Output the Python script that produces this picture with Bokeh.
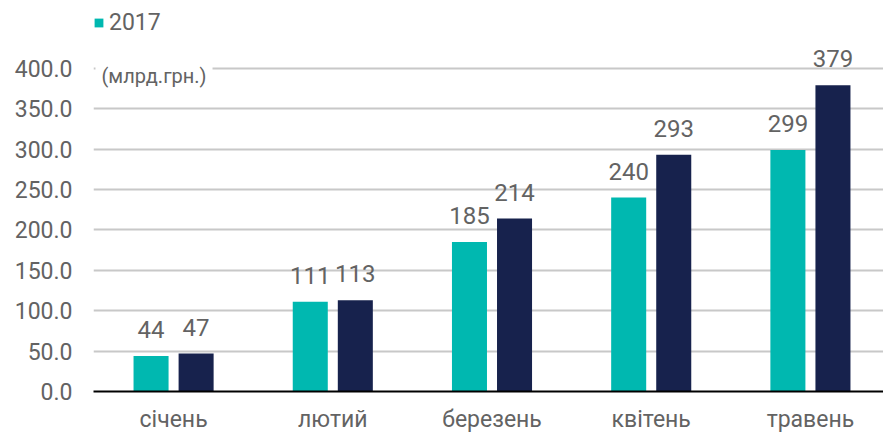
from bokeh.plotting import figure
from bokeh.models import (ColumnDataSource, Range1d, FixedTicker, NumeralTickFormatter,
                          Legend, LegendItem, Label)
from bokeh.transform import dodge
from bokeh.core.properties import value
from bokeh.embed import file_html
from bokeh.resources import INLINE

months = ["січень", "лютий", "березень", "квітень", "травень"]
values_2017 = [44, 111, 185, 240, 299]
values_2018 = [47, 113, 214, 293, 379]
y_ticks = [0, 50, 100, 150, 200, 250, 300, 350, 400]
unit_label = "(млрд.грн.)"

FONT = "Roboto"
TXT = "#636363"
TEAL = "#00b8b0"
NAVY = "#17224d"

idx = list(range(len(months)))
src = ColumnDataSource(dict(
    x=idx,
    v17=values_2017,
    v18=values_2018,
    t17=[str(v) for v in values_2017],
    t18=[str(v) for v in values_2018],
))

p = figure(width=883, height=435, output_backend="svg", toolbar_location=None,
           x_range=Range1d(-0.503, 4.459), y_range=Range1d(0, 484),
           min_border_left=93, min_border_right=0, min_border_top=0, min_border_bottom=0)
p.outline_line_color = None
p.background_fill_color = "white"
p.border_fill_color = "white"

off = 0.1415
r17 = p.vbar(x=dodge("x", -off, range=p.x_range), top="v17", width=0.22, source=src,
             fill_color=TEAL, line_color=None)
r18 = p.vbar(x=dodge("x", off, range=p.x_range), top="v18", width=0.22, source=src,
             fill_color=NAVY, line_color=None)

for col, tcol, o in (("v17", "t17", -off), ("v18", "t18", off)):
    p.text(x=dodge("x", o, range=p.x_range), y=col, text=tcol, source=src,
           text_align="center", text_baseline="bottom", y_offset=-18,
           text_font=value(FONT), text_font_size="24px", text_color=TXT)

# axes
p.xaxis.ticker = FixedTicker(ticks=idx)
p.xaxis.major_label_overrides = {i: m for i, m in zip(idx, months)}
p.xaxis.major_tick_line_color = None
p.xaxis.major_tick_out = 0
p.xaxis.major_tick_in = 0
p.xaxis.minor_tick_line_color = None
p.xaxis.axis_line_color = "black"
p.xaxis.axis_line_width = 2
p.xaxis.major_label_standoff = 14
p.xaxis.major_label_text_font = FONT
p.xaxis.major_label_text_font_size = "23px"
p.xaxis.major_label_text_color = TXT

p.yaxis.ticker = FixedTicker(ticks=y_ticks)
p.yaxis.formatter = NumeralTickFormatter(format="0.0")
p.yaxis.major_tick_line_color = None
p.yaxis.major_tick_out = 0
p.yaxis.major_tick_in = 0
p.yaxis.minor_tick_line_color = None
p.yaxis.axis_line_color = None
p.yaxis.major_label_standoff = 21
p.yaxis.major_label_text_font = FONT
p.yaxis.major_label_text_font_size = "23px"
p.yaxis.major_label_text_color = TXT

p.xgrid.grid_line_color = None
p.ygrid.grid_line_color = "#c8c8c8"
p.ygrid.grid_line_width = 2

unit = Label(x=2, x_units="screen", y=390, text=unit_label,
             text_font=FONT, text_font_size="20px", text_color=TXT,
             text_baseline="middle", text_align="left",
             background_fill_color="white", padding=6)
p.add_layout(unit)

legend = Legend(items=[LegendItem(label="2017", renderers=[r17])],
                location=(0, 355), padding=0, margin=0, spacing=0,
                glyph_width=11, glyph_height=11, label_standoff=5,
                label_text_font=FONT, label_text_font_size="23px", label_text_color=TXT,
                border_line_color=None, background_fill_alpha=0)
p.add_layout(legend)

open("out.html", "w").write(file_html(p, INLINE))
